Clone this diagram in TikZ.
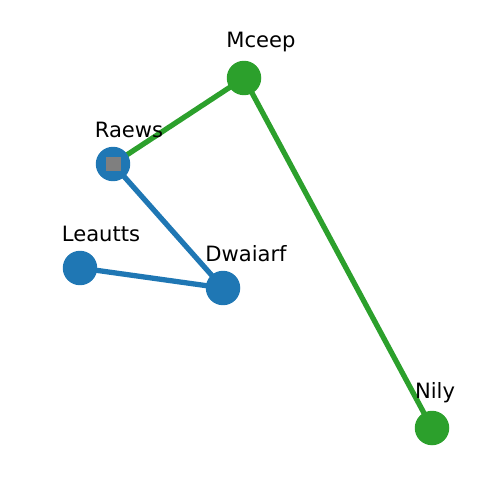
\documentclass[tikz,border=0pt]{standalone}
\usepackage{fontspec}
\setmainfont{DejaVu Sans}
\definecolor{mblue}{HTML}{1F77B4}
\definecolor{mgreen}{HTML}{2CA02C}
\definecolor{mgrey}{HTML}{7F7F7F}
\begin{document}
\begin{tikzpicture}[x=0.02cm,y=-0.02cm,
  dot/.style={circle,minimum size=0.69cm,inner sep=0pt},
  lbl/.style={font=\fontsize{12}{14}\selectfont,inner sep=0pt},
  link/.style={line width=3pt}]
\useasboundingbox (0,0) rectangle (500,500);
\coordinate (Mc) at (244,78);
\coordinate (Ra) at (113,164);
\coordinate (Le) at (80,268);
\coordinate (Dw) at (223,288);
\coordinate (Ni) at (432,428);
\draw[link,mgreen] (Mc) -- (Ra);
\draw[link,mgreen] (Mc) -- (Ni);
\draw[link,mblue] (Ra) -- (Dw);
\draw[link,mblue] (Le) -- (Dw);
\node[dot,fill=mgreen] (nMc) at (Mc) {};
\node[dot,fill=mblue] (nRa) at (Ra) {};
\node[dot,fill=mblue] (nLe) at (Le) {};
\node[dot,fill=mblue] (nDw) at (Dw) {};
\node[dot,fill=mgreen] (nNi) at (Ni) {};
\node[fill=mgrey,minimum size=0.3cm,inner sep=0pt] (sq) at (Ra) {};
\node[lbl] (tMc) at (261,42.5) {Mceep};
\node[lbl] (tRa) at (129,129.5) {Raews};
\node[lbl] (tLe) at (101,233.5) {Leautts};
\node[lbl] (tDw) at (246,253.5) {Dwaiarf};
\node[lbl] (tNi) at (435,392.5) {Nily};
\end{tikzpicture}
\end{document}
